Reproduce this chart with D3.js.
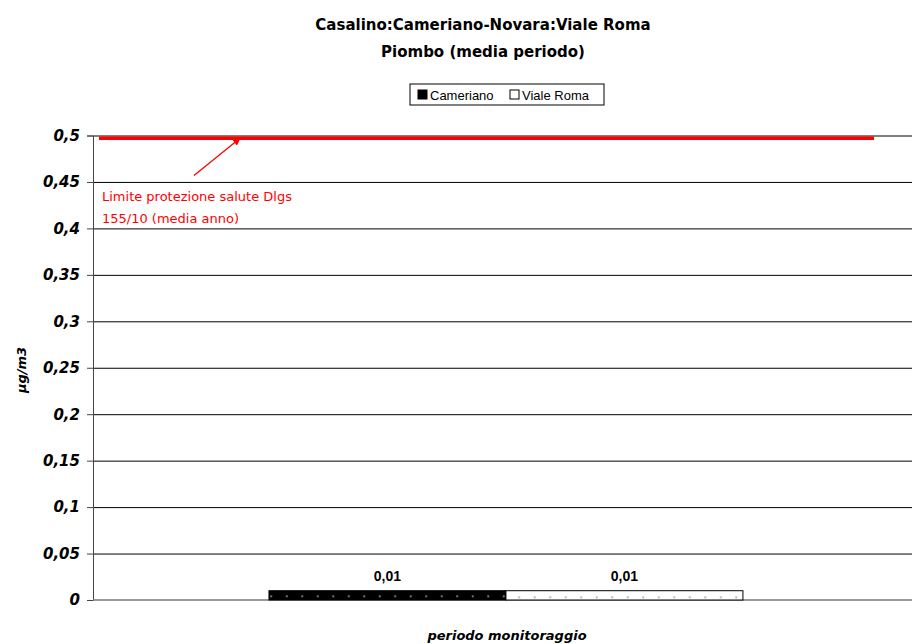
<!DOCTYPE html>
<html>
<head>
<meta charset="utf-8">
<script src="https://cdn.jsdelivr.net/npm/d3@7"></script>
<style>
  body { margin: 0; background: #fff; }
  svg { display: block; }
</style>
</head>
<body>
<svg id="chart" width="912" height="644"></svg>
<script>
// data
const categories = ["periodo"];
const seriesNames = ["Cameriano", "Viale Roma"];
const seriesValues = [0.01, 0.01];
const yTicks = [0, 0.05, 0.1, 0.15, 0.2, 0.25, 0.3, 0.35, 0.4, 0.45, 0.5];
const limitValue = 0.497;
const limitText = ["Limite protezione salute Dlgs", "155/10 (media anno)"];
const titleLines = ["Casalino:Cameriano-Novara:Viale Roma", "Piombo (media periodo)"];

const W = 912, H = 644;
const m = { top: 135.5, right: 0, bottom: 44, left: 93 };
const gw = W - m.left - m.right, gh = H - m.top - m.bottom;
const comic = "'Comic Sans MS', 'DejaVu Sans', sans-serif";
const arial = "Arial, 'Liberation Sans', sans-serif";

const svg = d3.select("#chart");

// patterns for the bar fills
const defs = svg.append("defs");
const pBlack = defs.append("pattern").attr("id", "dotsBlack")
  .attr("patternUnits", "userSpaceOnUse").attr("width", 15.5).attr("height", 8);
pBlack.append("rect").attr("width", 15.5).attr("height", 8).attr("fill", "#000");
pBlack.append("rect").attr("x", 7).attr("y", 4).attr("width", 1.5).attr("height", 1.5).attr("fill", "#ccc");
const pWhite = defs.append("pattern").attr("id", "dotsWhite")
  .attr("patternUnits", "userSpaceOnUse").attr("width", 15.5).attr("height", 8);
pWhite.append("rect").attr("width", 15.5).attr("height", 8).attr("fill", "#fff");
pWhite.append("rect").attr("x", 7).attr("y", 5).attr("width", 1.5).attr("height", 1.5).attr("fill", "#888");

// scales
const x0 = d3.scaleBand().domain(categories).range([0, gw])
  .paddingInner(0).paddingOuter(0.364).align(0.51);
const x1 = d3.scaleBand().domain(seriesNames).range([0, x0.bandwidth()]);
const yScale = d3.scaleLinear().domain([0, 0.5]).range([gh, 0]);
const fills = ["url(#dotsBlack)", "url(#dotsWhite)"];

const g = svg.append("g").attr("transform", `translate(${m.left},${m.top})`);

// gridlines
g.append("g")
  .call(d3.axisLeft(yScale).tickValues(yTicks.filter(d => d > 0)).tickSize(-gw).tickFormat(""))
  .call(s => s.select(".domain").remove())
  .selectAll("line").attr("stroke", "#000").attr("stroke-width", 1);

// y axis
const fmt = d => String(d).replace(".", ",");
const yAxis = g.append("g")
  .call(d3.axisLeft(yScale).tickValues(yTicks).tickSize(6).tickPadding(7).tickFormat(fmt));
yAxis.select(".domain").attr("stroke", "#444");
yAxis.selectAll(".tick line").attr("stroke", "#444");
yAxis.selectAll("text")
  .attr("font-family", comic).attr("font-size", 15).attr("font-weight", "bold")
  .attr("font-style", "italic").attr("fill", "#000");

// x axis baseline
g.append("line").attr("x1", 0).attr("x2", gw).attr("y1", gh).attr("y2", gh)
  .attr("stroke", "#777").attr("stroke-width", 1.5);

// bars
const bars = g.selectAll(".bar").data(seriesNames.map((s, i) => ({ s, v: seriesValues[i], i })))
  .enter().append("g");
bars.append("rect")
  .attr("x", d => x0(categories[0]) + x1(d.s))
  .attr("y", d => yScale(d.v))
  .attr("width", x1.bandwidth())
  .attr("height", d => gh - yScale(d.v))
  .attr("fill", d => fills[d.i])
  .attr("stroke", "#000").attr("stroke-width", 1);
bars.append("text")
  .attr("x", d => x0(categories[0]) + x1(d.s) + x1.bandwidth() / 2)
  .attr("y", d => yScale(d.v) - 10)
  .attr("text-anchor", "middle")
  .attr("font-family", arial).attr("font-size", 14).attr("font-weight", "bold")
  .text(d => fmt(d.v));

// limit line
g.append("line")
  .attr("x1", 6).attr("x2", gw - 38)
  .attr("y1", yScale(limitValue)).attr("y2", yScale(limitValue))
  .attr("stroke", "#ff0000").attr("stroke-width", 3.5);

// annotation arrow
defs.append("marker").attr("id", "arrowHead").attr("viewBox", "0 0 10 10")
  .attr("refX", 9).attr("refY", 5).attr("markerWidth", 6).attr("markerHeight", 6)
  .attr("orient", "auto")
  .append("path").attr("d", "M0,0 L10,5 L0,10 z").attr("fill", "#ff0000");
g.append("line")
  .attr("x1", 101).attr("y1", yScale(0.457))
  .attr("x2", 147).attr("y2", yScale(limitValue))
  .attr("stroke", "#ff0000").attr("stroke-width", 1.3)
  .attr("marker-end", "url(#arrowHead)");
g.append("text")
  .attr("x", 9).attr("y", yScale(0.43))
  .attr("font-family", comic).attr("font-size", 13).attr("fill", "#ff0000")
  .selectAll("tspan").data(limitText).enter().append("tspan")
  .attr("x", 9).attr("dy", (d, i) => i ? 22 : 0).text(d => d);

// titles
svg.append("g").selectAll("text").data(titleLines).enter().append("text")
  .attr("x", 483).attr("y", (d, i) => 30 + i * 27)
  .attr("text-anchor", "middle")
  .attr("font-family", comic).attr("font-size", 15).attr("font-weight", "bold")
  .text(d => d);

// legend
const leg = svg.append("g").attr("transform", "translate(410,84)");
leg.append("rect").attr("width", 194).attr("height", 21)
  .attr("fill", "#fff").attr("stroke", "#000").attr("stroke-width", 1);
const legX = [8, 100];
seriesNames.forEach((s, i) => {
  leg.append("rect").attr("x", legX[i]).attr("y", 6).attr("width", 9).attr("height", 9)
    .attr("fill", i ? "#fff" : "#000").attr("stroke", "#000");
  leg.append("text").attr("x", legX[i] + 12).attr("y", 15.5)
    .attr("font-family", arial).attr("font-size", 13).text(s);
});

// axis titles
svg.append("text")
  .attr("transform", "translate(26,370) rotate(-90)")
  .attr("text-anchor", "middle")
  .attr("font-family", comic).attr("font-size", 13).attr("font-weight", "bold")
  .attr("font-style", "italic").text("µg/m3");
svg.append("text")
  .attr("x", 507).attr("y", 640)
  .attr("text-anchor", "middle")
  .attr("font-family", comic).attr("font-size", 13).attr("font-weight", "bold")
  .attr("font-style", "italic").text("periodo monitoraggio");
</script>
</body>
</html>
